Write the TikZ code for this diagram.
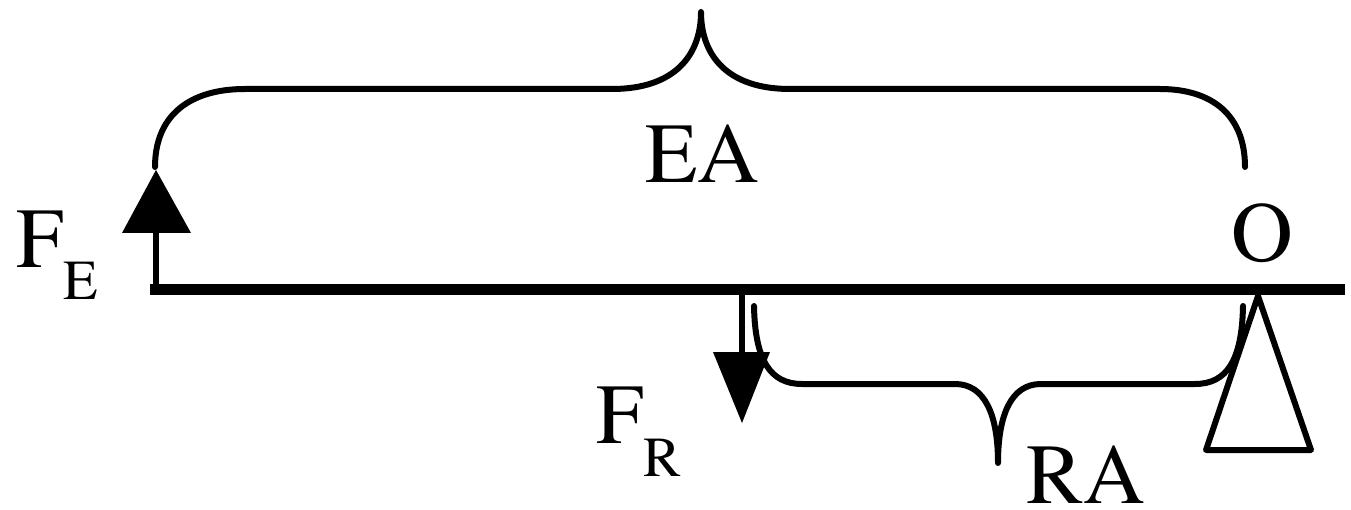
\documentclass[tikz,border=0pt]{standalone}
\usepackage{fontspec}
\IfFontExistsTF{texgyretermes-regular.otf}{\newfontfamily\tms{texgyretermes-regular.otf}}{\newfontfamily\tms{Liberation Serif}}
\begin{document}
\begin{tikzpicture}[x=1pt,y=-1pt,
  lbl/.style={inner sep=0pt,font=\tms\fontsize{85.5}{90}\selectfont},
  bracepath/.style={line width=6pt,line cap=round,line join=round},
  stem/.style={line width=6pt},
  beamline/.style={line width=11pt}]
\useasboundingbox (0,0) rectangle (1351,510);
% beam
\coordinate (bl) at (150,290);
\coordinate (br) at (1345,290);
\draw[beamline] (bl) -- (br);
% effort arrow
\coordinate (eb) at (156,286);
\coordinate (et) at (156,233);
\draw[stem] (eb) -- (et);
\fill (122,233) -- (191,233) -- (156,170) -- cycle;
% resistance arrow
\coordinate (rb) at (742,294);
\coordinate (rt) at (742,352);
\draw[stem] (rb) -- (rt);
\fill (713,352) -- (770,352) -- (742,423) -- cycle;
% fulcrum
\draw[line width=6pt,line join=round] (1258,296) -- (1311,450) -- (1206,450) -- cycle;
% EA brace
\draw[bracepath] (155,167) .. controls (155,115) and (190,89) .. (245,89)
  -- (612,89) .. controls (675,89) and (701,55) .. (701,12)
  .. controls (701,55) and (727,89) .. (790,89)
  -- (1160,89) .. controls (1212,89) and (1245,115) .. (1245,167);
% RA brace
\draw[bracepath] (754,306) .. controls (755,360) and (770,384) .. (802,384)
  -- (955,384) .. controls (985,384) and (998,415) .. (998,463)
  .. controls (998,415) and (1011,384) .. (1041,384)
  -- (1195,384) .. controls (1227,384) and (1242,360) .. (1243,306);
% labels
\node[lbl,anchor=base] (ea) at (702,183) {EA};
\node[lbl,anchor=base] (o) at (1262,262) {O};
\node[lbl,anchor=base west] (ra) at (1026.5,503) {RA};
\node[lbl,anchor=base west] (fe) at (16,268) {F\lower32pt\hbox{\fontsize{56.5}{60}\selectfont E}};
\node[lbl,anchor=base west] (fr) at (596,443) {F\lower33pt\hbox{\fontsize{56.5}{60}\selectfont R}};
\end{tikzpicture}
\end{document}
